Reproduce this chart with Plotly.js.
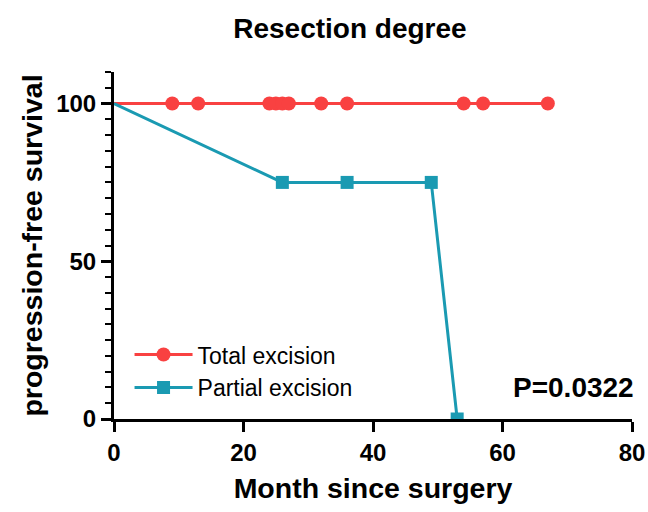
<!DOCTYPE html>
<html>
<head>
<meta charset="utf-8">
<script src="https://cdn.plot.ly/plotly-3.0.1.min.js"></script>
<style>html,body{margin:0;padding:0;background:#fff}#chart{width:648px;height:512px}</style>
</head>
<body>
<div id="chart"></div>
<script>
// Total excision: censored points at 100%
const totalLineX = [0, 67];
const totalLineY = [100, 100];
const totalMarkX = [9, 13, 24, 25, 26, 27, 32, 36, 54, 57, 67];
const totalMarkY = [100, 100, 100, 100, 100, 100, 100, 100, 100, 100, 100];
// Partial excision
const partialLineX = [0, 26, 36, 49, 53];
const partialLineY = [100, 75, 75, 75, 0];
const partialMarkX = [26, 36, 49, 53];
const partialMarkY = [75, 75, 75, 0];
const seriesNames = ['Total excision', 'Partial excision'];

const red = '#F94141';
const teal = '#1A9AB2';
const font = 'Liberation Sans, Arial, sans-serif';

const traces = [
  {x: totalLineX, y: totalLineY, mode: 'lines', line: {color: red, width: 3}, showlegend: false},
  {x: partialLineX, y: partialLineY, mode: 'lines', line: {color: teal, width: 3}, showlegend: false},
  {x: totalMarkX, y: totalMarkY, mode: 'markers', showlegend: false, marker: {symbol: 'circle', size: 14, color: red}},
  {x: partialMarkX, y: partialMarkY, mode: 'markers', showlegend: false, marker: {symbol: 'square', size: 13, color: teal}},
  {x: [null], y: [null], mode: 'lines+markers', name: seriesNames[0], line: {color: red, width: 3}, marker: {symbol: 'circle', size: 14, color: red}},
  {x: [null], y: [null], mode: 'lines+markers', name: seriesNames[1], line: {color: teal, width: 3}, marker: {symbol: 'square', size: 13, color: teal}}
];

const layout = {
  width: 648, height: 512,
  margin: {l: 114, r: 16, t: 72, b: 93},
  paper_bgcolor: '#fff', plot_bgcolor: '#fff',
  font: {family: font, color: '#000'},
  title: {text: '<b>Resection degree</b>', font: {family: font, size: 28, color: '#000'}, x: 0.54, xanchor: 'center', y: 0.945, yanchor: 'middle'},
  xaxis: {
    range: [0, 80], tickvals: [0, 20, 40, 60, 80], ticktext: ['<b>0</b>','<b>20</b>','<b>40</b>','<b>60</b>','<b>80</b>'],
    showgrid: false, zeroline: false, showline: true, linecolor: '#000', linewidth: 3,
    ticks: 'outside', ticklen: 10, tickwidth: 3, tickcolor: '#000',
    tickfont: {family: font, size: 24, color: '#000'},
    title: {text: '<b>Month since surgery</b>', font: {family: font, size: 28.5, color: '#000'}, standoff: 14}
  },
  yaxis: {
    range: [0, 110], tickvals: [0, 50, 100], ticktext: ['<b>0</b>','<b>50</b>','<b>100</b>'],
    showgrid: false, zeroline: false, showline: true, linecolor: '#000', linewidth: 3,
    ticks: 'outside', ticklen: 10, tickwidth: 3, tickcolor: '#000',
    minor: {dtick: 5, tick0: 0, ticks: 'outside', ticklen: 6, tickwidth: 2, tickcolor: '#000', showgrid: false},
    tickfont: {family: font, size: 24, color: '#000'},
    title: {text: '<b>progression-free survival</b>', font: {family: font, size: 28.5, color: '#000'}, standoff: 6}
  },
  legend: {x: 0.03, y: 0.138, xanchor: 'left', yanchor: 'middle', bgcolor: 'rgba(0,0,0,0)',
           font: {family: font, size: 23, color: '#000'}, itemwidth: 58, tracegroupgap: 0},
  annotations: [{text: '<b>P=0.0322</b>', xref: 'paper', yref: 'paper', x: 1.008, y: 0.09, xanchor: 'right', yanchor: 'middle',
                 showarrow: false, font: {family: font, size: 28, color: '#000'}}]
};

Plotly.newPlot('chart', traces, layout, {displayModeBar: false, staticPlot: true});
</script>
</body>
</html>
